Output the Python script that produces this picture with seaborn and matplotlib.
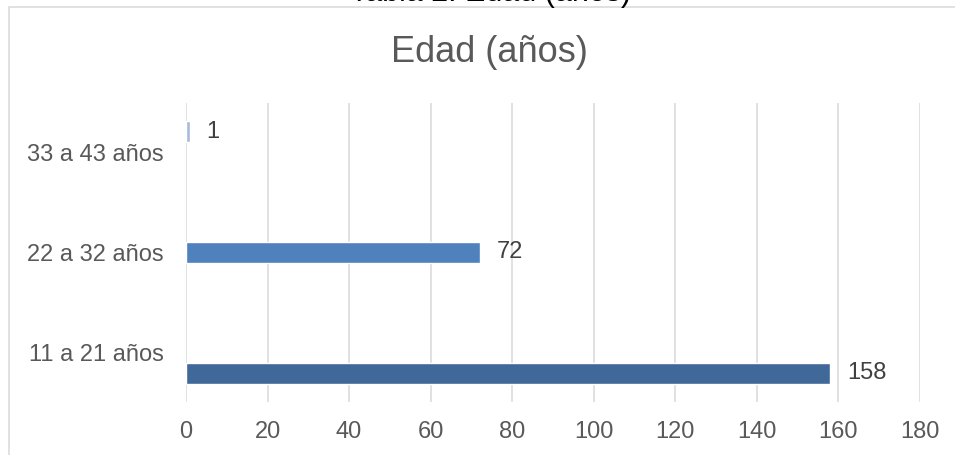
import matplotlib
matplotlib.use('Agg')
import matplotlib.pyplot as plt
import matplotlib.patches as patches
import seaborn as sns
import pandas as pd

# Chart data (top to bottom as shown)
categories = ['33 a 43 años', '22 a 32 años', '11 a 21 años']
values = [1, 72, 158]
bar_colors = ['#A8BAD9', '#4F81BD', '#406899']
x_ticks = [0, 20, 40, 60, 80, 100, 120, 140, 160, 180]

sns.set_style('white')
plt.rcParams['font.family'] = ['Liberation Sans', 'DejaVu Sans']

df = pd.DataFrame({'categoria': categories, 'valor': values})

W, H = 955, 455
fig = plt.figure(figsize=(W / 100, H / 100), dpi=100)
ax = fig.add_axes([186 / W, 1 - 402 / H, (920 - 186) / W, (402 - 103) / H])

sns.barplot(data=df, x='valor', y='categoria', hue='categoria',
            hue_order=categories, order=categories, palette=bar_colors,
            dodge=True, width=0.63, legend=False, orient='h', ax=ax,
            saturation=1)

for cont in ax.containers:
    ax.bar_label(cont, padding=12, fontsize=17, color='#404040')

ax.set_xlim(0, 180)
ax.set_ylim(2.5, -0.5)
ax.set_xticks(x_ticks)
ax.set_xticklabels([str(t) for t in x_ticks])
ax.set_xlabel('')
ax.set_ylabel('')
ax.tick_params(axis='both', length=0, labelsize=17, labelcolor='#595959')
ax.tick_params(axis='x', pad=14)
ax.tick_params(axis='y', pad=16)
ax.grid(axis='x', color='#D9D9D9', linewidth=1.1)
ax.grid(axis='y', visible=False)
ax.set_axisbelow(True)
for s in ax.spines.values():
    s.set_visible(False)

# Chart frame (Excel-style border)
frame = patches.Rectangle((8.5 / W, -0.1), 1.2, 1 - 7 / H + 0.1,
                          transform=fig.transFigure, fill=False,
                          edgecolor='#D9D9D9', linewidth=1.1)
fig.add_artist(frame)

fig.text(489 / W, 1 - 62 / H, 'Edad (años)', ha='center', va='baseline',
         fontsize=26, color='#595959')
# caption above the chart, cut off by the top edge as in the source image
fig.text(491 / W, 1 - 1.5 / H, 'Tabla 2. Edad (años)', ha='center',
         va='baseline', fontsize=22, color='black')

fig.savefig('out.png', dpi=100)
